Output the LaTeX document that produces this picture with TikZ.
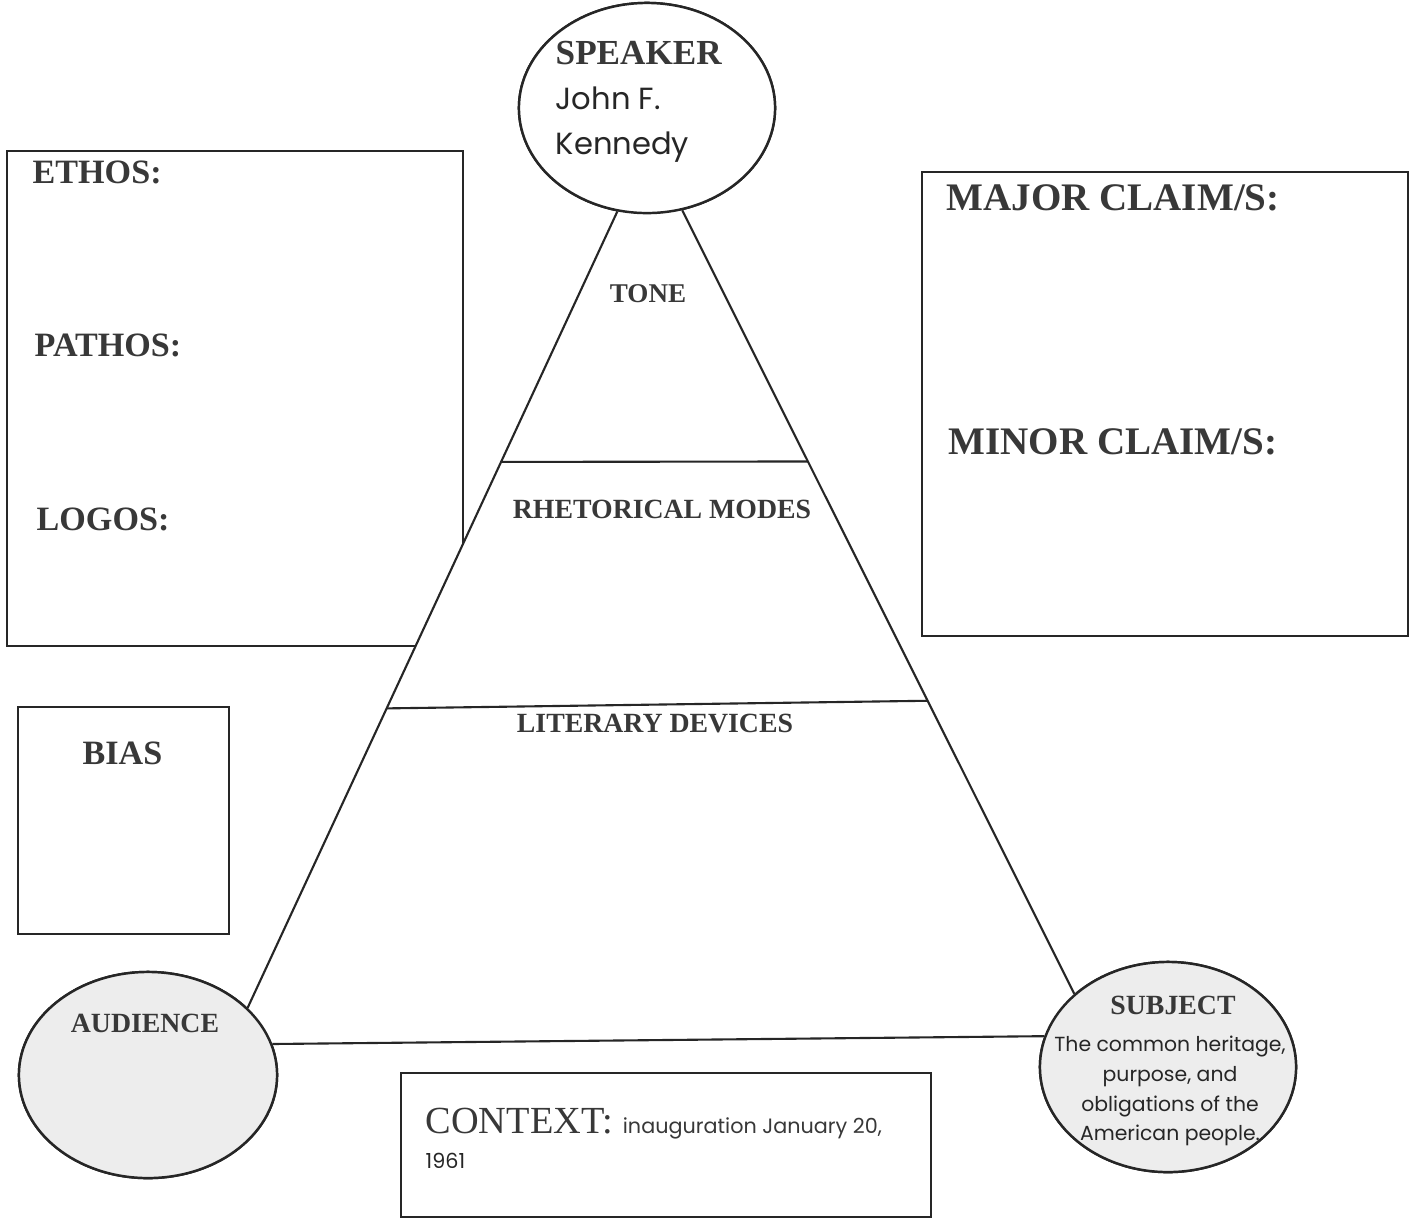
\documentclass[tikz,border=0pt]{standalone}
\usepackage{fontspec}
\setmainfont{Liberation Serif}
\newfontfamily\hand{Poppins}
\usetikzlibrary{shapes.geometric,calc}

\begin{document}
\begin{tikzpicture}[x=0.01cm,y=-0.01cm,
  frame/.style={rectangle,draw=black!85,line width=0.6pt,inner sep=0pt,anchor=north west},
  bubble/.style={ellipse,draw=black!85,line width=0.7pt,inner sep=0pt},
  rule/.style={draw=black!85,line width=0.6pt},
  head/.style={inner sep=0pt,text=black!78,anchor=base west,font=\bfseries\fontsize{9.7}{11}\selectfont},
  bighead/.style={head,font=\bfseries\fontsize{11.1}{13}\selectfont},
  layer/.style={inner sep=0pt,text=black!78,anchor=base,font=\bfseries\fontsize{7.9}{9}\selectfont},
  script/.style={inner sep=0pt,text=black!85},
]
\useasboundingbox (0,0) rectangle (1412,1226);

% side boxes
\node[frame,minimum width=4.56cm,minimum height=4.95cm] (appeals) at (6,150) {};
\node[frame,minimum width=4.86cm,minimum height=4.64cm] (claims) at (921,171) {};
\node[frame,minimum width=2.11cm,minimum height=2.27cm] (biasbox) at (17,706) {};
\node[frame,minimum width=5.30cm,minimum height=1.44cm] (contextbox) at (400,1072) {};

% corner bubbles (placed first so their anchors exist)
\path (647,108) node[bubble,minimum width=2.56cm,minimum height=2.10cm] (spk) {};
\path (148,1075) node[bubble,minimum width=2.58cm,minimum height=2.06cm] (aud) {};
\path (1168,1067) node[bubble,minimum width=2.56cm,minimum height=2.10cm] (sub) {};

% white body of the triangle, hiding the box edge behind it
\fill[white] (spk.-106) -- (aud.34) -- (aud.14) -- (sub.166) -- (sub.142.6) -- (spk.-71) -- cycle;

% triangle sides
\draw[rule] (spk.-106) -- (aud.34);
\draw[rule] (spk.-71) -- (sub.142.6);
\draw[rule] (aud.14) -- (sub.166);

% dividers between the layers
\coordinate (d1l) at ($(spk.-106)!0.3145!(aud.34)$);
\coordinate (d1r) at ($(spk.-71)!0.3206!(sub.142.6)$);
\coordinate (d2l) at ($(spk.-106)!0.624!(aud.34)$);
\coordinate (d2r) at ($(spk.-71)!0.626!(sub.142.6)$);
\draw[rule] (d1l) -- (d1r);
\draw[rule] (d2l) -- (d2r);

% bubbles redrawn on top with their fills
\node[bubble,fill=white,minimum width=2.56cm,minimum height=2.10cm] (spkfill) at (spk.center) {};
\node[bubble,fill=black!7,minimum width=2.58cm,minimum height=2.06cm] (audfill) at (aud.center) {};
\node[bubble,fill=black!7,minimum width=2.56cm,minimum height=2.10cm] (subfill) at (sub.center) {};

% headings in the boxes
\node[head] (ethos) at (32,183) {ETHOS:};
\node[head] (pathos) at (34,356) {PATHOS:};
\node[head] (logos) at (36,530) {LOGOS:};
\node[head] (bias) at (82,764) {BIAS};
\node[bighead] (major) at (946,210) {MAJOR CLAIM/S:};
\node[bighead] (minor) at (948,454) {MINOR CLAIM/S:};

% layers of the triangle
\node[layer,font=\bfseries\fontsize{7.7}{9}\selectfont] (tone) at (648,302) {TONE};
\node[layer] (modes) at (662,518) {RHETORICAL MODES};
\node[layer] (devices) at (655,732) {LITERARY DEVICES};

% bubble texts
\node[head,font=\bfseries\fontsize{10}{12}\selectfont] (speaker) at (555,64) {SPEAKER};
\node[script,anchor=north west,align=left,font=\hand\fontsize{8.7}{12.8}\selectfont] (jfk) at (555,86) {John F.\\Kennedy};
\node[layer] (audience) at (145,1032) {AUDIENCE};
\node[layer] (subject) at (1173,1014) {SUBJECT};
\node[script,anchor=north,align=center,font=\hand\fontsize{5.8}{8.5}\selectfont] (subjtext) at (1170,1035) {The common heritage,\\purpose, and\\obligations of the\\American people.};

% context
\node[head,font=\fontsize{10.9}{13}\selectfont] (context) at (425,1133) {CONTEXT: {\hand\fontsize{5.9}{8}\selectfont inauguration January 20,}};
\node[script,anchor=base west,font=\hand\fontsize{5.9}{8}\selectfont] (year) at (425,1168) {1961};
\end{tikzpicture}
\end{document}
